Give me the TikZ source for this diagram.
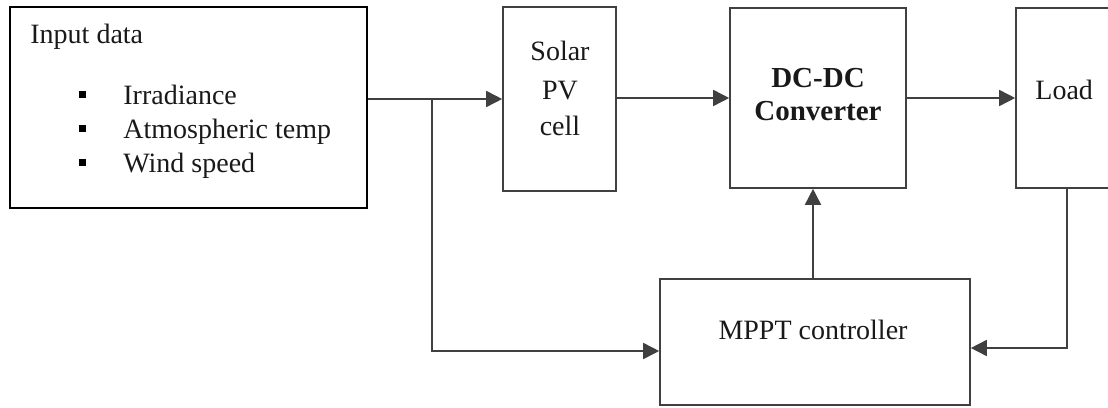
\documentclass[tikz,border=0pt]{standalone}
\usepackage{fontspec}
\setmainfont{Liberation Serif}
\usetikzlibrary{arrows.meta}
\begin{document}
\begin{tikzpicture}[x=0.5pt,y=-0.5pt,
  box/.style={draw=black!75,line width=0.8pt,inner sep=0pt},
  txt/.style={inner sep=0pt,font=\fontsize{14}{16}\selectfont,text=black!90},
  bullet/.style={fill=black,inner sep=0pt,minimum size=3.5pt},
  arr/.style={draw=black!75,line width=0.8pt,-{Triangle[length=8pt,width=8pt]}}]
\useasboundingbox (0,0) rectangle (1108,407);
\clip (0,0) rectangle (1108,407);
% boxes
\node[box,draw=black,line width=1.4pt,minimum width=178.5pt,minimum height=100.5pt] (inp) at (188.5,107.5) {};
\node[box,minimum width=56.5pt,minimum height=92pt] (sol) at (559.5,99) {};
\node[box,minimum width=88pt,minimum height=90pt] (dc) at (818,98) {};
\node[box,minimum width=57pt,minimum height=90pt] (load) at (1073,98) {};
\node[box,minimum width=155pt,minimum height=63pt] (mppt) at (815,342) {};
% texts
\node[txt,anchor=base west] (t0) at (30,43) {Input data};
\node[bullet] (b1) at (82,94) {};
\node[bullet] (b2) at (82,128) {};
\node[bullet] (b3) at (82,162) {};
\node[txt,anchor=base west] (t1) at (123,104) {Irradiance};
\node[txt,anchor=base west] (t2) at (123,138) {Atmospheric temp};
\node[txt,anchor=base west] (t3) at (123,172) {Wind speed};
\node[txt,anchor=base] (s1) at (560,61) {Solar};
\node[txt,anchor=base] (s2) at (560,99) {PV};
\node[txt,anchor=base] (s3) at (560,135) {cell};
\node[txt,anchor=base,font=\fontsize{14.5}{16}\selectfont\bfseries] (d1) at (818,87) {DC-DC};
\node[txt,anchor=base,font=\fontsize{14.5}{16}\selectfont\bfseries] (d2) at (818,120) {Converter};
\node[txt,anchor=base west] (l1) at (1035,99) {Load};
\node[txt,anchor=base] (m1) at (813,339) {MPPT controller};
% connectors
\coordinate (br) at (432,99);
\draw[arr] (inp.east |- sol.west) -- (sol.west);
\draw[arr] (br) |- ([yshift=-4.5pt]mppt.west);
\draw[arr] (sol.east |- dc.west) -- (dc.west);
\draw[arr] (dc.east) -- (load.west);
\draw[arr] ([xshift=-1pt]mppt.north) -- ([xshift=-1pt]mppt.north |- dc.south);
\draw[arr] ([xshift=-3pt]load.south) |- ([yshift=-3pt]mppt.east);
\end{tikzpicture}
\end{document}
